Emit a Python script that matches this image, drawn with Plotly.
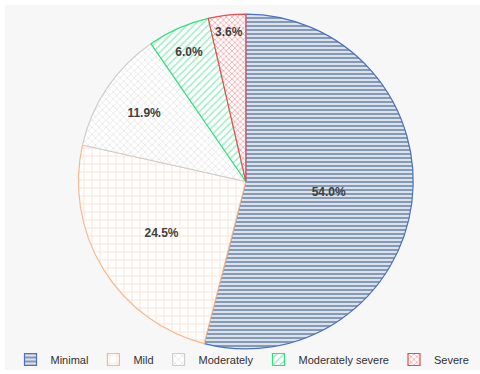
import plotly.graph_objects as go

# Severity categories and their share of respondents (%)
categories = ["Minimal", "Mild", "Moderately", "Moderately severe", "Severe"]
shares = [54.0, 24.5, 11.9, 6.0, 3.6]

# Per-category styling: outline colour, hatch colour, hatch shape
edge_colors = ["#4a72c0", "#f6b98e", "#cfcfcf", "#2ee27a", "#f04a4a"]
hatch_colors = ["#2c4a75", "#f7bf98", "#c4c4c4", "#3fd98a", "#f25757"]
hatch_bg = ["#e3eaf3", "#ffffff", "#ffffff", "#ffffff", "#ffffff"]
hatch_shapes = ["-", "+", "x", "/", "x"]
hatch_sizes = [4, 8, 5, 5, 4]
hatch_solidity = [0.55, 0.2, 0.25, 0.3, 0.4]

fig = go.Figure(
    go.Pie(
        labels=categories,
        values=shares,
        sort=False,
        direction="clockwise",
        rotation=0,
        texttemplate="%{value:.1f}%",
        textposition="inside",
        insidetextorientation="horizontal",
        textfont=dict(family="Liberation Sans, Arial, sans-serif", size=12, color="#404040", weight="bold"),
        marker=dict(
            colors=["#ffffff"] * len(categories),
            line=dict(color=edge_colors, width=1.2),
            pattern=dict(
                shape=hatch_shapes,
                fgcolor=hatch_colors,
                bgcolor=hatch_bg,
                fillmode="overlay",
                size=hatch_sizes,
                solidity=hatch_solidity,
            ),
        ),
        domain=dict(x=[0.014, 1.0], y=[0.058, 0.975]),
        hoverinfo="label+percent",
    )
)

fig.update_layout(
    width=480,
    height=374,
    margin=dict(l=5, r=0, t=5, b=0),
    paper_bgcolor="#ffffff",
    shapes=[
        dict(type="rect", xref="paper", yref="paper", x0=0, x1=1, y0=0, y1=1,
             fillcolor="#f7f7f7", line=dict(width=0), layer="below")
    ],
    legend=dict(
        orientation="h",
        x=0.5,
        xanchor="center",
        y=-0.012,
        yanchor="bottom",
        font=dict(family="Liberation Sans, Arial, sans-serif", size=11, color="#303030"),
        bgcolor="rgba(0,0,0,0)",
        itemwidth=30,
        tracegroupgap=0,
    ),
    showlegend=True,
)

fig.write_html("out.html")
